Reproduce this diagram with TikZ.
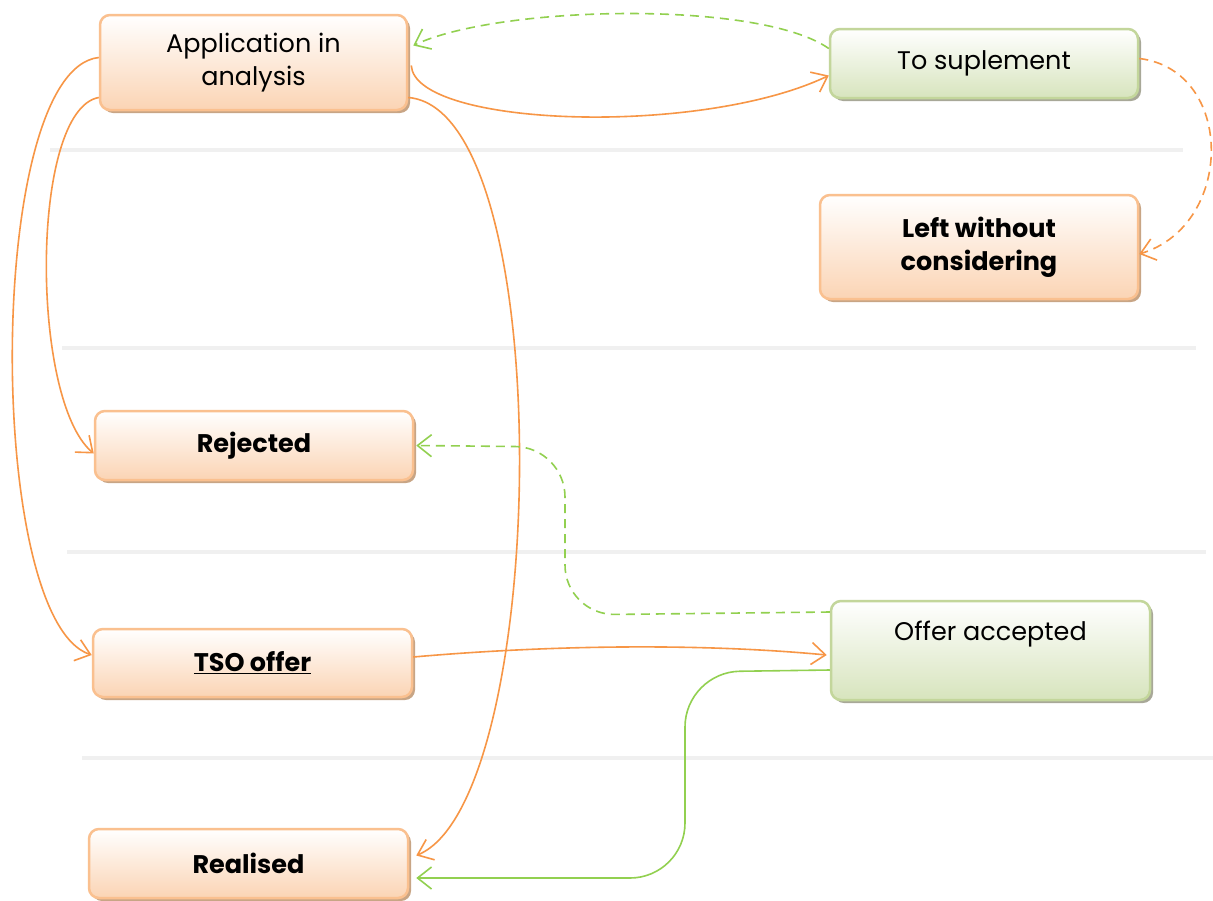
\documentclass[tikz,border=0pt]{standalone}
\usepackage{fontspec}
\setmainfont{Poppins}
\usetikzlibrary{arrows.meta,shadows}
\definecolor{obord}{HTML}{FAC08F}
\definecolor{ofill}{HTML}{FBD4B4}
\definecolor{gbord}{HTML}{C3D69B}
\definecolor{gfill}{HTML}{D7E4BD}
\definecolor{oline}{HTML}{F79646}
\definecolor{gline}{HTML}{92D050}
\definecolor{sepc}{HTML}{F0F0F0}
\definecolor{oshad}{HTML}{C8A585}
\definecolor{gshad}{HTML}{A8A898}
\begin{document}
\begin{tikzpicture}[x=1pt,y=-1pt,
  box/.style={rounded corners=10pt, line width=2.5pt, inner sep=0pt, align=center,
    font=\fontsize{25.5}{33}\selectfont},
  bbox/.style={font=\fontsize{25.5}{33}\selectfont\bfseries},
  obox/.style={box, draw=obord, top color=white, bottom color=ofill,
    drop shadow={shadow xshift=3pt, shadow yshift=-3pt, fill=oshad, opacity=1}},
  gbox/.style={box, draw=gbord, top color=white, bottom color=gfill,
    drop shadow={shadow xshift=3pt, shadow yshift=-3pt, fill=gshad, opacity=1}},
  con/.style={line width=1.6pt, -{Straight Barb[length=14pt,width=22pt]}},
  ocon/.style={con, draw=oline},
  gcon/.style={con, draw=gline},
  dsh/.style={dash pattern=on 9pt off 6pt},
  sep/.style={draw=sepc, line width=4pt}]
\useasboundingbox (0,0) rectangle (1213,900);
\fill[white] (0,0) rectangle (1213,900);
% separators
\draw[sep] (50,150) -- (1183,150);
\draw[sep] (62,348) -- (1196,348);
\draw[sep] (67,552) -- (1206,552);
\draw[sep] (82,758) -- (1213,758);
% nodes
\node[obox, minimum width=307pt, minimum height=95pt] (app) at (253.5,62.5) {Application in\\analysis};
\node[gbox, minimum width=308pt, minimum height=69pt] (sup) at (984,63.5) {To suplement};
\node[obox, bbox, minimum width=318pt, minimum height=104pt] (lwc) at (979,247) {Left without\\considering};
\node[obox, bbox, minimum width=318pt, minimum height=69pt] (rej) at (254,445.5) {Rejected};
\node[obox, bbox, minimum width=319pt, minimum height=68pt] (tso) at (252.5,663) {\underline{TSO offer}};
\node[gbox, minimum width=319pt, minimum height=99pt, text height=18pt, text depth=38pt] (acc) at (990.5,650.5) {Offer accepted};
\node[obox, bbox, minimum width=319pt, minimum height=69pt] (real) at (248.5,863.5) {Realised};
% connectors
\draw[ocon] ([yshift=5pt]app.west) .. controls (-15,70) and (-15,620) .. ([yshift=8pt]tso.west);
\draw[ocon] ([yshift=-35pt]app.west) .. controls (30,110) and (30,400) .. ([yshift=-8pt]rej.west);
\draw[ocon] ([yshift=-35pt]app.east) .. controls (560,110) and (550,800) .. ([yshift=8pt,xshift=7pt]real.east);
\draw[ocon] ([yshift=-3pt,xshift=3pt]app.east) .. controls (415,127) and (700,137) .. ([yshift=-12pt]sup.west);
\draw[gcon, dsh] ([yshift=15pt]sup.west) .. controls (760,0) and (500,5) .. ([yshift=17pt,xshift=5pt]app.east);
\draw[ocon, dsh] ([yshift=5pt]sup.east) .. controls (1235,70) and (1235,225) .. ([yshift=-7pt]lwc.east);
\draw[gcon, dsh, rounded corners=50pt] ([yshift=38.5pt]acc.west) -- (565,615) -- (565,447) -- ([xshift=2pt]rej.east);
\draw[ocon] ([yshift=6pt]tso.east) .. controls (550,645) and (700,643) .. ([yshift=-4.5pt,xshift=-3pt]acc.west);
\draw[gcon, rounded corners=55pt] ([yshift=-19.5pt]acc.west) -- (685,672) -- (685,878) -- ([yshift=-14.5pt,xshift=7pt]real.east);
\end{tikzpicture}
\end{document}
